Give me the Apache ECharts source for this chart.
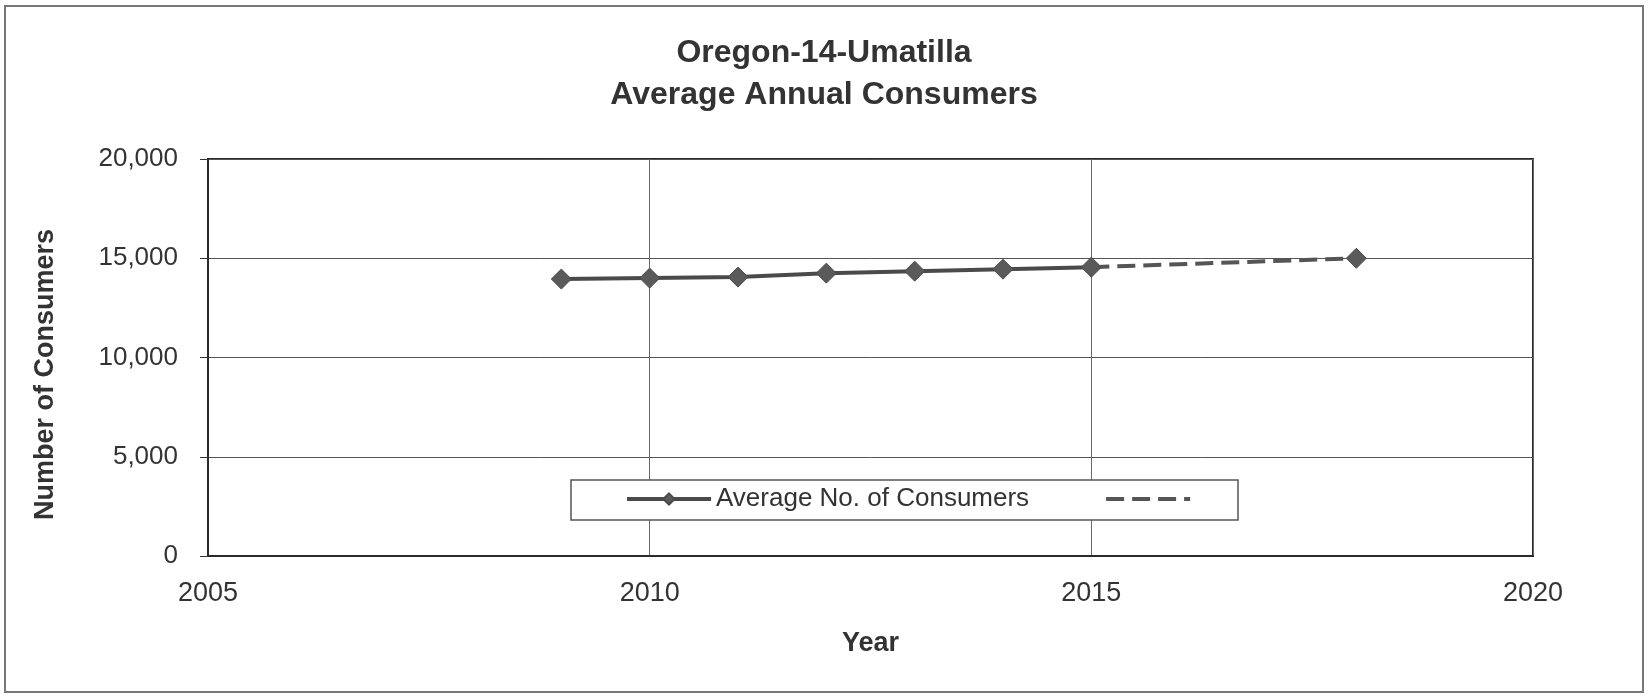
<!DOCTYPE html>
<html>
<head>
<meta charset="utf-8">
<script src="https://cdn.jsdelivr.net/npm/echarts@6/dist/echarts.min.js"></script>
<style>
html,body{margin:0;padding:0;background:#fff;}
#chart{width:1648px;height:698px;}
</style>
</head>
<body>
<div id="chart"></div>
<script>
// Data
var titleLines = ['Oregon-14-Umatilla', 'Average Annual Consumers'];
var histYears = [2009, 2010, 2011, 2012, 2013, 2014, 2015];
var histValues = [13950, 14000, 14050, 14250, 14350, 14450, 14550];
var forecastYears = [2015, 2018];
var forecastValues = [14550, 15000];
var seriesName = 'Average No. of Consumers';
var forecastName = 'Forecast';
var xTicks = [2005, 2010, 2015, 2020];
var yTicks = [0, 5000, 10000, 15000, 20000];

var solidData = histYears.map(function (y, i) { return [y, histValues[i]]; });
solidData.push([2016, '-']);
solidData.push([forecastYears[1], forecastValues[1]]);
var dashData = forecastYears.map(function (y, i) { return [y, forecastValues[i]]; });

var chart = echarts.init(document.getElementById('chart'));
var font = 'Liberation Sans, Arial, sans-serif';
chart.setOption({
  animation: false,
  backgroundColor: '#ffffff',
  title: {
    text: titleLines.join('\n'),
    left: 'center',
    top: 32,
    padding: 0,
    textStyle: { fontFamily: font, fontSize: 32, fontWeight: 'bold', color: '#333', lineHeight: 42 }
  },
  grid: {
    left: 208, right: 115, top: 159, bottom: 142,
    show: true, borderColor: '#2a2a2a', borderWidth: 2
  },
  legend: {
    left: 625, top: 486, padding: 0, z: 10,
    itemWidth: 84, itemHeight: 14, itemGap: 75,
    lineStyle: { width: 4 },
    data: [
      { name: seriesName },
      { name: forecastName, itemStyle: { opacity: 0 } }
    ],
    formatter: function (n) { return n === forecastName ? '' : n; },
    textStyle: { fontFamily: font, fontSize: 26, color: '#333' }
  },
  xAxis: {
    type: 'value', min: xTicks[0], max: xTicks[xTicks.length - 1], interval: 5,
    name: 'Year', nameLocation: 'middle', nameGap: 74,
    nameTextStyle: { fontFamily: font, fontSize: 27, fontWeight: 'bold', color: '#333' },
    axisLine: { show: true, lineStyle: { color: '#2a2a2a', width: 2 } },
    axisTick: { show: false },
    axisLabel: { margin: 24, fontFamily: font, fontSize: 27, color: '#333', formatter: function (v) { return String(v); } },
    splitLine: { show: true, lineStyle: { color: '#666', width: 1 } }
  },
  yAxis: {
    type: 'value', min: yTicks[0], max: yTicks[yTicks.length - 1], interval: 5000,
    name: 'Number of Consumers', nameLocation: 'middle', nameGap: 149,
    nameTextStyle: { fontFamily: font, fontSize: 27, fontWeight: 'bold', color: '#333', padding: [0, 34, 0, 0] },
    axisLine: { show: true, lineStyle: { color: '#2a2a2a', width: 2 } },
    axisTick: { show: true, inside: false, length: 8, lineStyle: { color: '#333', width: 1 } },
    axisLabel: { margin: 30, fontFamily: font, fontSize: 26, color: '#333' },
    splitLine: { show: true, lineStyle: { color: '#555', width: 1 } }
  },
  graphic: [
    { type: 'rect', z: 1, shape: { x: 5, y: 6, width: 1638, height: 686 },
      style: { fill: 'none', stroke: '#777', lineWidth: 2 } },
    { type: 'rect', z: 5, shape: { x: 571, y: 480, width: 667, height: 40 },
      style: { fill: '#fff', stroke: '#555', lineWidth: 1.5 } }
  ],
  series: [
    {
      name: forecastName, type: 'line', data: dashData, z: 2,
      symbol: 'none',
      lineStyle: { color: '#555', width: 4, type: [18, 8] },
      itemStyle: { color: '#555' }
    },
    {
      name: seriesName, type: 'line', data: solidData, z: 3,
      connectNulls: false,
      symbol: 'diamond', symbolSize: 20,
      lineStyle: { color: '#4a4a4a', width: 4 },
      itemStyle: { color: '#5a5a5a', borderColor: '#4a4a4a', borderWidth: 1 }
    }
  ]
});
</script>
</body>
</html>
